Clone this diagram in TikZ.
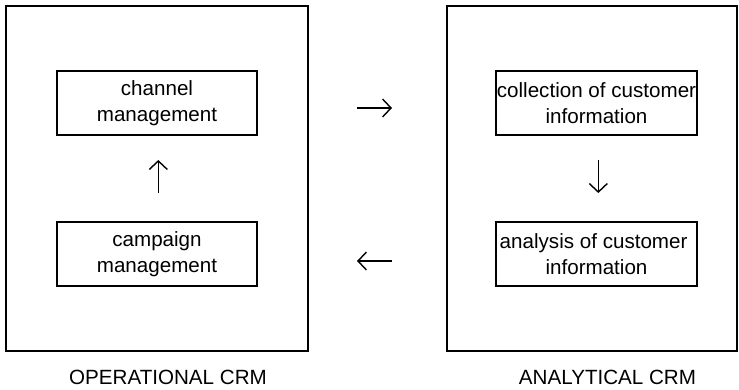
\documentclass[tikz,border=0pt]{standalone}
\usepackage{fontspec}
\setmainfont{Liberation Sans}
\usetikzlibrary{arrows.meta}

\begin{document}
\begin{tikzpicture}[x=1pt,y=-1pt,
  every node/.style={font=\fontsize{20.6}{25.5}\selectfont, inner sep=0pt, outer sep=0pt},
  outerbox/.style={draw, line width=1.8pt},
  stepbox/.style={draw, line width=1.6pt, minimum width=200pt, minimum height=64pt, align=center},
  flow/.style={line width=1.4pt, -{Straight Barb[length=8.5pt, width=18pt]}},
  caption/.style={}
]
\useasboundingbox (0,0) rectangle (739,389);

% the two CRM areas
\node[outerbox, minimum width=302pt, minimum height=345pt] (op) at (157,178.5) {};
\node[outerbox, minimum width=290pt, minimum height=345pt] (an) at (592,178.5) {};

% steps inside operational CRM
\node[stepbox] (chan) at (157,103) {channel\\management};
\node[stepbox] (camp) at (157,254) {campaign\\management};

% steps inside analytical CRM
\node[stepbox, minimum width=201pt] (coll) at (596.5,103) {collection of customer\\information};
\node[stepbox, minimum width=201pt] (anal) at (596.5,254) {analysis of customer\hspace*{0.28em}\\information};

% captions
\node[caption] (opl) at (168,377) {OPERATIONAL CRM};
\node[caption] (anl) at (607.5,377) {ANALYTICAL CRM};

% arrow end points
\coordinate (r1) at (357,108);
\coordinate (r2) at (392,108);
\coordinate (l1) at (392,261);
\coordinate (l2) at (357,261);
\coordinate (u1) at (158.3,193);
\coordinate (u2) at (158.3,160);
\coordinate (d1) at (598.3,160);
\coordinate (d2) at (598.3,193);

\draw[flow] (r1) -- (r2);
\draw[flow] (l1) -- (l2);
\draw[flow] (u1) -- (u2);
\draw[flow] (d1) -- (d2);
\end{tikzpicture}
\end{document}
